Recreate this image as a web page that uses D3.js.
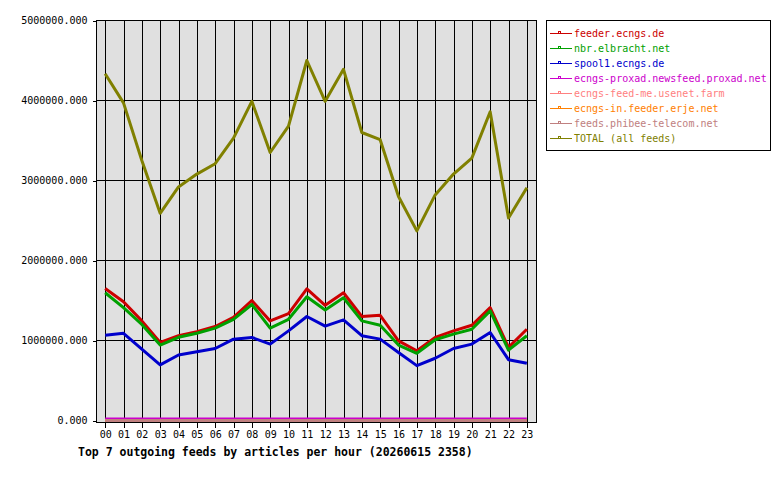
<!DOCTYPE html>
<html>
<head>
<meta charset="utf-8">
<script src="https://cdn.jsdelivr.net/npm/d3@7"></script>
<style>
  body { margin: 0; background: #fff; }
  text { font-family: "DejaVu Sans Mono", "Liberation Mono", monospace; }
</style>
</head>
<body>
<div id="chart"></div>
<script>
////////////////////////////////////////////////////////////////////////
// Data

let hours = d3.range(0, 24);

let feederEcngs = [1650000, 1485000, 1245000, 976000, 1060000, 1110000, 1175000, 1290000,
  1500000, 1245000, 1336000, 1645000, 1440000, 1597000, 1300000, 1315000,
  996000, 872000, 1038000, 1120000, 1190000, 1410000, 914000, 1140000];

let nbrElbracht = [1597000, 1410000, 1200000, 943000, 1040000, 1090000, 1154000, 1265000,
  1450000, 1154000, 1265000, 1547000, 1381000, 1535000, 1245000, 1190000,
  943000, 840000, 1010000, 1080000, 1140000, 1370000, 880000, 1060000];

let spool1Ecngs = [1067000, 1090000, 893000, 695000, 819000, 860000, 900000, 1017000,
  1038000, 955000, 1120000, 1300000, 1180000, 1257000, 1060000, 1017000,
  850000, 686000, 778000, 900000, 955000, 1100000, 760000, 716000];

let proxad = [20000, 20000, 20000, 20000, 20000, 20000, 20000, 20000,
  20000, 20000, 20000, 20000, 20000, 20000, 20000, 20000,
  20000, 20000, 20000, 20000, 20000, 20000, 20000, 20000];

let feedMe = [0, 0, 0, 0, 0, 0, 0, 0, 0, 0, 0, 0, 0, 0, 0, 0, 0, 0, 0, 0, 0, 0, 0, 0];
let erje = [0, 0, 0, 0, 0, 0, 0, 0, 0, 0, 0, 0, 0, 0, 0, 0, 0, 0, 0, 0, 0, 0, 0, 0];
let phibee = [0, 0, 0, 0, 0, 0, 0, 0, 0, 0, 0, 0, 0, 0, 0, 0, 0, 0, 0, 0, 0, 0, 0, 0];

let total = [4334000, 3970000, 3250000, 2590000, 2920000, 3080000, 3210000, 3530000,
  3990000, 3350000, 3680000, 4500000, 3990000, 4390000, 3600000, 3510000,
  2800000, 2370000, 2820000, 3080000, 3280000, 3860000, 2530000, 2910000];

let feedNames = ["feeder.ecngs.de", "nbr.elbracht.net", "spool1.ecngs.de",
  "ecngs-proxad.newsfeed.proxad.net", "ecngs-feed-me.usenet.farm",
  "ecngs-in.feeder.erje.net", "feeds.phibee-telecom.net", "TOTAL (all feeds)"];
let feedColors = ["#cc0000", "#00a000", "#0000cc", "#cc00cc",
  "#ff8080", "#ff8000", "#c08080", "#808000"];
let feedValues = [feederEcngs, nbrElbracht, spool1Ecngs, proxad, feedMe, erje, phibee, total];

let yTicks = [0, 1000000, 2000000, 3000000, 4000000, 5000000];
let title = "Top 7 outgoing feeds by articles per hour (20260615 2358)";

////////////////////////////////////////////////////////////////////////
// Layout

let width = 780, height = 480;
let plotLeft = 96, plotRight = 536, plotTop = 20, plotBottom = 422;

let svg = d3.select("#chart")
  .append("svg")
  .attr("width", width)
  .attr("height", height);

let xScale = d3.scaleLinear()
  .domain([-0.5, 23.5])
  .range([plotLeft, plotRight]);

let yScale = d3.scaleLinear()
  .domain([0, 5000000])
  .range([420.5, 20.5]);

// plot background
svg.append("rect")
  .attr("x", plotLeft)
  .attr("y", plotTop)
  .attr("width", plotRight - plotLeft)
  .attr("height", plotBottom - plotTop)
  .attr("fill", "#e0e0e0");

// grid lines
let grid = svg.append("g")
  .attr("stroke", "black")
  .attr("shape-rendering", "crispEdges");

grid.selectAll(".vgrid")
  .data(hours)
  .enter()
  .append("line")
  .attr("x1", d => Math.round(xScale(d)) + 0.5)
  .attr("x2", d => Math.round(xScale(d)) + 0.5)
  .attr("y1", plotTop)
  .attr("y2", plotBottom);

grid.selectAll(".hgrid")
  .data(yTicks.slice(1))
  .enter()
  .append("line")
  .attr("x1", plotLeft)
  .attr("x2", plotRight)
  .attr("y1", d => Math.floor(yScale(d)) + 0.5)
  .attr("y2", d => Math.floor(yScale(d)) + 0.5);

// frame: left, bottom and right edges
grid.append("line")
  .attr("x1", plotLeft + 0.5).attr("x2", plotLeft + 0.5)
  .attr("y1", plotTop).attr("y2", plotBottom + 1);
grid.append("line")
  .attr("x1", plotLeft).attr("x2", plotRight + 1)
  .attr("y1", plotBottom + 0.5).attr("y2", plotBottom + 0.5);
grid.append("line")
  .attr("x1", plotRight + 0.5).attr("x2", plotRight + 0.5)
  .attr("y1", plotTop).attr("y2", plotBottom + 1);

// Y axis
let yAxisG = svg.append("g")
  .attr("transform", "translate(" + (plotLeft + 0.5) + ",0)")
  .call(d3.axisLeft(yScale)
    .tickValues(yTicks)
    .tickFormat(d3.format(".3f"))
    .tickSize(4)
    .tickPadding(5));
yAxisG.select(".domain").remove();
yAxisG.selectAll("line").attr("shape-rendering", "crispEdges");
yAxisG.selectAll("text")
  .attr("font-family", "DejaVu Sans Mono, monospace")
  .attr("font-size", "10px")
  .attr("fill", "black");

// X axis
let xAxisG = svg.append("g")
  .attr("transform", "translate(0," + (plotBottom + 0.5) + ")")
  .call(d3.axisBottom(xScale)
    .tickValues(hours)
    .tickFormat(d3.format("02d"))
    .tickSize(5)
    .tickPadding(3));
xAxisG.select(".domain").remove();
xAxisG.selectAll("line").attr("shape-rendering", "crispEdges");
xAxisG.selectAll("text")
  .attr("font-family", "DejaVu Sans Mono, monospace")
  .attr("font-size", "10px")
  .attr("fill", "black");

// series lines, drawn in legend order so TOTAL is on top
let line = d3.line()
  .x((d, i) => xScale(hours[i]))
  .y(d => yScale(d));

svg.append("g")
  .selectAll("path")
  .data(feedValues)
  .enter()
  .append("path")
  .attr("d", d => line(d))
  .attr("fill", "none")
  .attr("stroke", (d, i) => feedColors[i])
  .attr("stroke-width", 3)
  .attr("stroke-linejoin", "round");

// title
svg.append("text")
  .attr("x", 78)
  .attr("y", 452)
  .attr("dy", "0.35em")
  .attr("font-size", "11.5px")
  .attr("font-weight", "bold")
  .attr("fill", "black")
  .text(title);

// legend
let legend = svg.append("g");
legend.append("rect")
  .attr("x", 546.5)
  .attr("y", 20.5)
  .attr("width", 224)
  .attr("height", 130)
  .attr("fill", "white")
  .attr("stroke", "black")
  .attr("shape-rendering", "crispEdges");

let items = legend.selectAll(".item")
  .data(feedNames)
  .enter()
  .append("g")
  .attr("class", "item")
  .attr("transform", (d, i) => "translate(0," + (33.5 + i * 15) + ")");

items.append("line")
  .attr("x1", 550).attr("x2", 572)
  .attr("y1", 0).attr("y2", 0)
  .attr("stroke", (d, i) => feedColors[i])
  .attr("shape-rendering", "crispEdges");

items.append("rect")
  .attr("x", 558.5).attr("y", -2.5)
  .attr("width", 2).attr("height", 2)
  .attr("fill", "none")
  .attr("stroke", (d, i) => feedColors[i])
  .attr("shape-rendering", "crispEdges");

items.append("text")
  .attr("x", 574)
  .attr("y", 0)
  .attr("dy", "0.35em")
  .attr("font-size", "10px")
  .attr("fill", (d, i) => feedColors[i])
  .text(d => d);
</script>
</body>
</html>
